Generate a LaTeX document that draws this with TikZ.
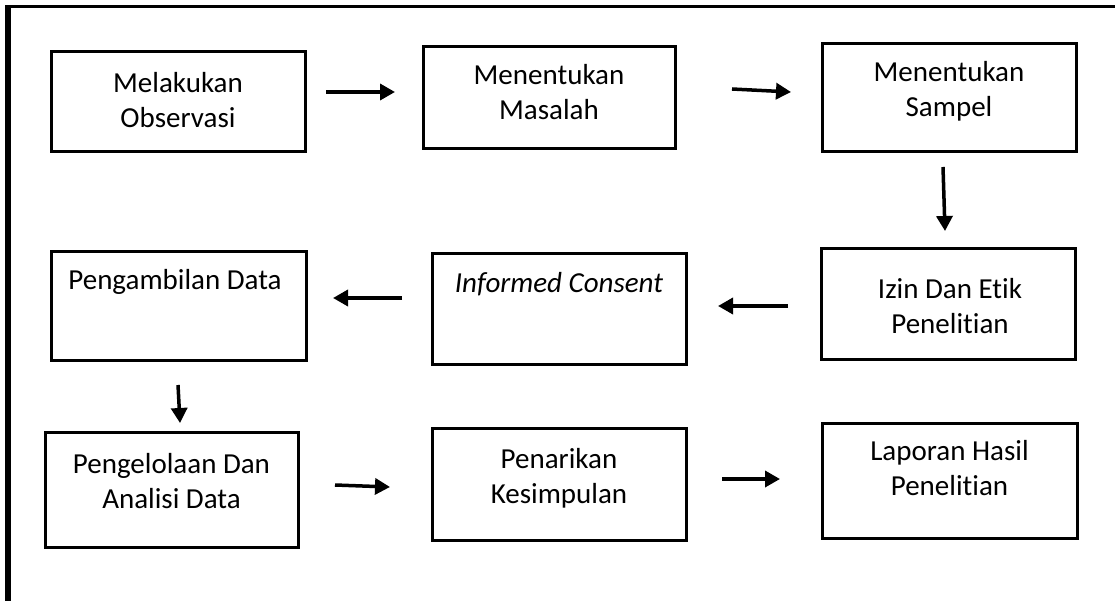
\documentclass[tikz,border=0pt]{standalone}
\usepackage{fontspec}
\setmainfont{Carlito}[Ligatures={NoCommon}]
\usetikzlibrary{arrows.meta}
\begin{document}
\begin{tikzpicture}[x=1pt,y=-1pt,
  stepbox/.style={draw, line width=3pt, inner sep=0pt, minimum width=#1},
  boxtext/.style={align=center, inner sep=0pt, font=\fontsize{29}{35}\selectfont},
  flowarrow/.style={line width=3.5pt, -{Triangle[length=15pt,width=16pt]}}
]
\useasboundingbox (0,0) rectangle (1115,601);
% outer frame (left and top edges)
\coordinate (fbl) at (8,601);
\coordinate (ftr) at (1115,6.5);
\draw[line width=6pt] (fbl) -- (8,5);
\draw[line width=3.5pt] (5,6.5) -- (ftr);

% boxes
\node[stepbox=254pt, minimum height=100pt] (b1) at (178,102) {};
\node[stepbox=252pt, minimum height=102pt] (b2) at (549,98) {};
\node[stepbox=254pt, minimum height=108pt] (b3) at (949,98) {};
\node[stepbox=255pt, minimum height=108pt] (b4) at (178.5,306) {};
\node[stepbox=254pt, minimum height=110pt] (b5) at (559,309) {};
\node[stepbox=254pt, minimum height=110pt] (b6) at (948,304) {};
\node[stepbox=253pt, minimum height=115pt] (b7) at (171.5,489.5) {};
\node[stepbox=254pt, minimum height=112pt] (b8) at (559,484) {};
\node[stepbox=255pt, minimum height=115pt] (b9) at (949.5,480.5) {};

% texts
\node[boxtext] (t1) at (178,103) {\strut Melakukan\\\strut Observasi};
\node[boxtext] (t2) at (549,95) {\strut Menentukan\\\strut Masalah};
\node[boxtext] (t3) at (949,92) {\strut Menentukan\\\strut Sampel};
\node[boxtext] (t4) at (175,283) {\strut Pengambilan Data};
\node[boxtext] (t5) at (559,286) {\strut\itshape Informed Consent};
\node[boxtext] (t6) at (950,309) {\strut Izin Dan Etik\\\strut Penelitian};
\node[boxtext] (t7) at (171.5,484) {\strut Pengelolaan Dan\\\strut Analisi Data};
\node[boxtext] (t8) at (559,479) {\strut Penarikan\\\strut Kesimpulan};
\node[boxtext] (t9) at (949.5,471) {\strut Laporan Hasil\\\strut Penelitian};

% arrow end points
\coordinate (a1s) at (326,92);   \coordinate (a1e) at (395,92);
\coordinate (a2s) at (732,89);   \coordinate (a2e) at (791,92);
\coordinate (a3s) at (943,167);  \coordinate (a3e) at (945,231);
\coordinate (a4s) at (402,298);  \coordinate (a4e) at (333,298);
\coordinate (a5s) at (788,306);  \coordinate (a5e) at (718,306);
\coordinate (a6s) at (178,385);  \coordinate (a6e) at (180,423);
\coordinate (a7s) at (335,485);  \coordinate (a7e) at (390,487);
\coordinate (a8s) at (722,479);  \coordinate (a8e) at (780,479);

\draw[flowarrow] (a1s) -- (a1e);
\draw[flowarrow] (a2s) -- (a2e);
\draw[flowarrow] (a3s) -- (a3e);
\draw[flowarrow] (a4s) -- (a4e);
\draw[flowarrow] (a5s) -- (a5e);
\draw[flowarrow] (a6s) -- (a6e);
\draw[flowarrow] (a7s) -- (a7e);
\draw[flowarrow] (a8s) -- (a8e);
\end{tikzpicture}
\end{document}
